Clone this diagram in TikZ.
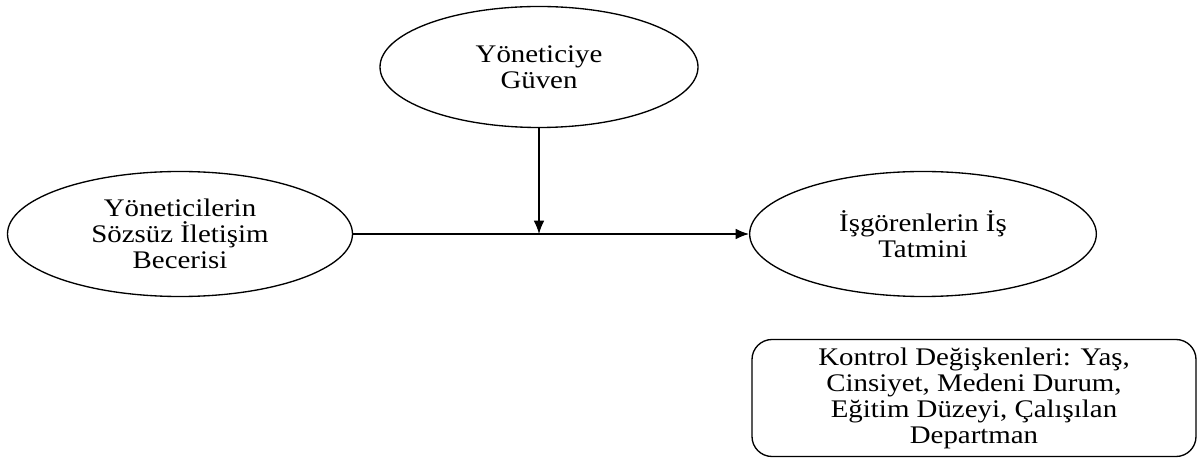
\documentclass[tikz,border=0pt]{standalone}
\usepackage{fontspec}
\setmainfont{Liberation Serif}[FakeStretch=1.14]
\usetikzlibrary{shapes.geometric,arrows.meta}
\begin{document}
\begin{tikzpicture}[x=0.75pt, y=-0.75pt, line width=1pt,
  oval/.style={draw, ellipse, align=center, inner sep=0pt, font=\fontsize{19}{19.5}\selectfont},
  ctrlbox/.style={draw, rounded corners=15pt, align=center, inner sep=0pt, font=\fontsize{19}{19.5}\selectfont},
  arr/.style={-{Latex[length=10pt, width=8pt]}}]
  \useasboundingbox (0,0) rectangle (1198,459);
  \node[oval, minimum width=238.5pt, minimum height=90.75pt] (trust) at (539,67) {Yöneticiye\\Güven};
  \node[oval, minimum width=258.75pt, minimum height=93.75pt] (skill) at (180,234) {Yöneticilerin\\Sözsüz İletişim\\Becerisi};
  \node[oval, minimum width=260pt, minimum height=93.75pt] (satisf) at (923,234) {İşgörenlerin İş\\Tatmini};
  \node[ctrlbox, minimum width=333pt, minimum height=87.75pt] (controls) at (974,398) {Kontrol Değişkenleri: Yaş,\\Cinsiyet, Medeni Durum,\\Eğitim Düzeyi, Çalışılan\\Departman};
  \coordinate (join) at (539,234);
  \draw[arr] (skill) -- (satisf);
  \draw[arr] (trust) -- (join);
\end{tikzpicture}
\end{document}
